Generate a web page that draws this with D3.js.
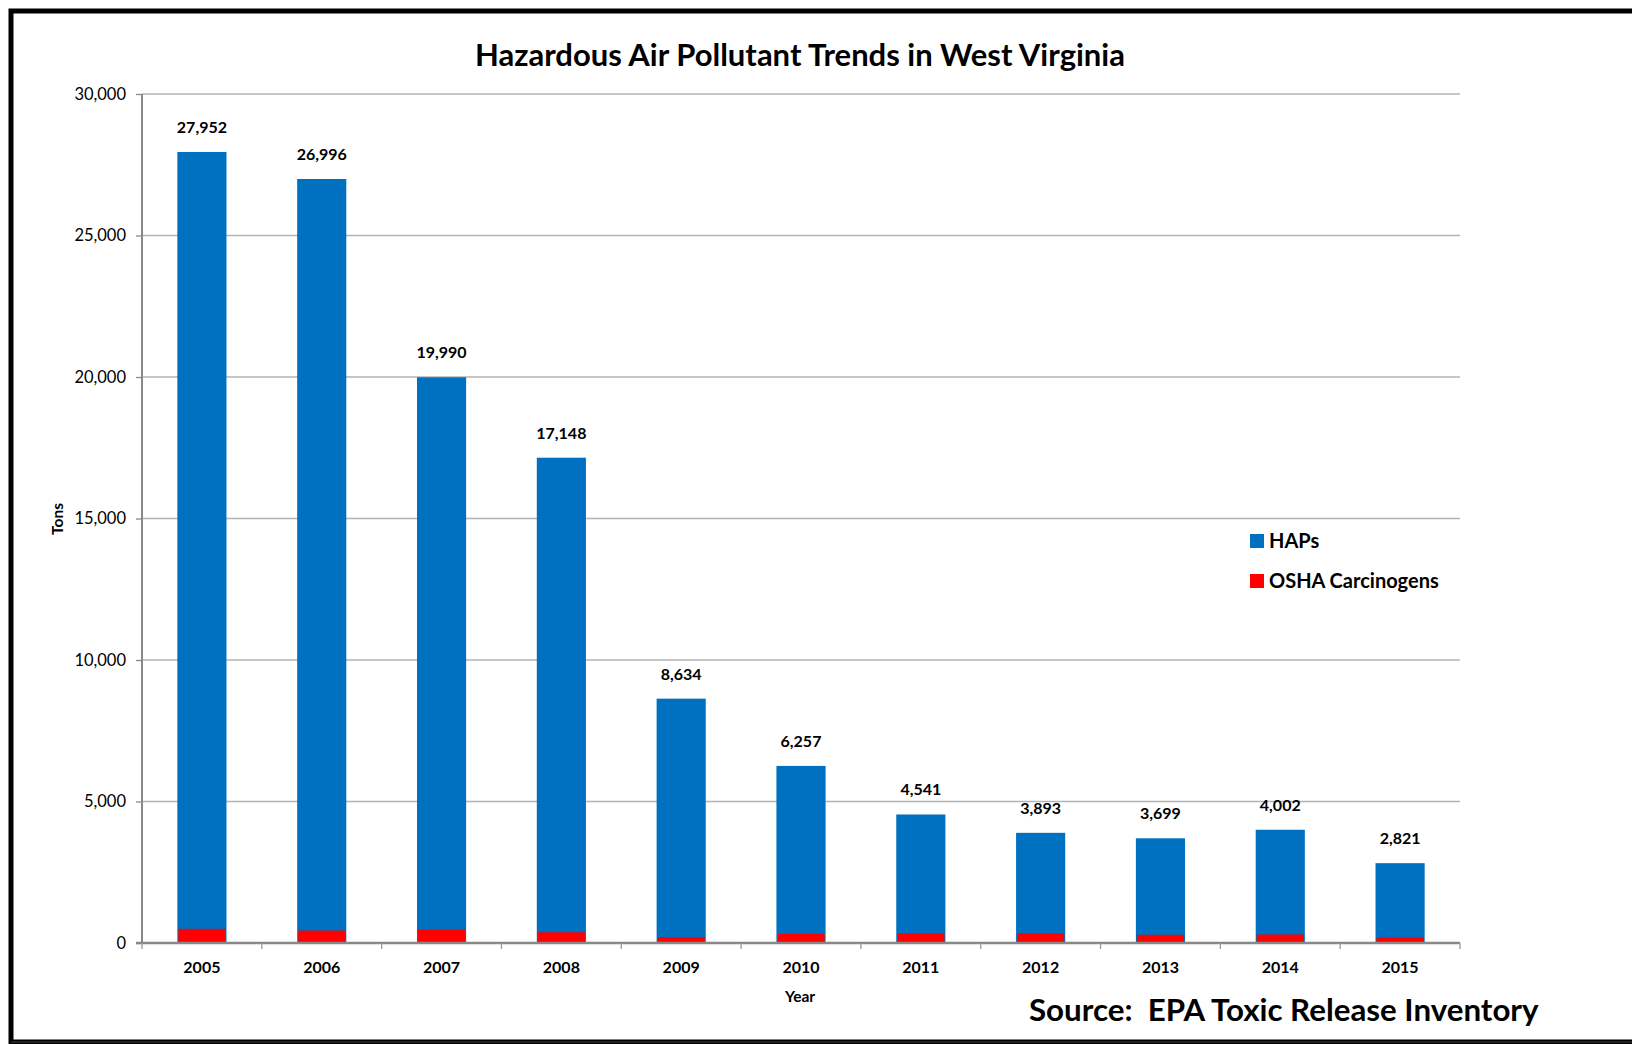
<!DOCTYPE html>
<html>
<head>
<meta charset="utf-8">
<title>Hazardous Air Pollutant Trends in West Virginia</title>
<script src="https://d3js.org/d3.v7.min.js"></script>
<style>
  body { margin: 0; background: #fff; }
  svg text { font-family: Lato, "Open Sans", sans-serif; fill: #000; }
  .bold { font-weight: bold; }
</style>
</head>
<body>
<div id="chart"></div>
<script>
// data
var years = ["2005", "2006", "2007", "2008", "2009", "2010", "2011", "2012", "2013", "2014", "2015"];
var haps = [27952, 26996, 19990, 17148, 8634, 6257, 4541, 3893, 3699, 4002, 2821];
var osha = [500, 440, 470, 380, 210, 320, 340, 340, 290, 300, 190];
var yTicks = [0, 5000, 10000, 15000, 20000, 25000, 30000];
var seriesNames = ["HAPs", "OSHA Carcinogens"];
var colors = ["#0070C0", "#FF0000"];

var W = 1632, H = 1044;
var margin = {top: 94, right: 172, bottom: 101, left: 142};
var width = W - margin.left - margin.right,
    height = H - margin.top - margin.bottom;

var svg = d3.select("#chart").append("svg")
  .attr("width", W)
  .attr("height", H);

// outer frame
svg.append("rect")
  .attr("x", 11).attr("y", 11)
  .attr("width", W + 20).attr("height", 1031)
  .attr("fill", "none")
  .attr("stroke", "#000")
  .attr("stroke-width", 5);
svg.append("line")
  .attr("x1", 11).attr("x2", W)
  .attr("y1", 1042).attr("y2", 1042)
  .attr("stroke", "#222").attr("stroke-width", 2);

var g = svg.append("g")
  .attr("transform", "translate(" + margin.left + "," + margin.top + ")");

var x = d3.scaleBand()
  .domain(years)
  .range([0, width])
  .paddingInner(0.59)
  .paddingOuter(0.295);

var y = d3.scaleLinear()
  .domain([0, 30000])
  .range([height, 0]);

// gridlines
g.append("g")
  .selectAll("line")
  .data(yTicks.filter(function(d) { return d > 0; }))
  .enter().append("line")
    .attr("x1", 0).attr("x2", width)
    .attr("y1", function(d) { return y(d); })
    .attr("y2", function(d) { return y(d); })
    .attr("stroke", "#b3b3b3")
    .attr("stroke-width", 1.3);

// bars: HAPs total, carcinogens drawn over the base
g.append("g")
  .selectAll("rect")
  .data(years)
  .enter().append("rect")
    .attr("x", function(d) { return x(d); })
    .attr("y", function(d, i) { return y(haps[i]); })
    .attr("width", x.bandwidth())
    .attr("height", function(d, i) { return height - y(haps[i]); })
    .attr("fill", colors[0]);

g.append("g")
  .selectAll("rect")
  .data(years)
  .enter().append("rect")
    .attr("x", function(d) { return x(d) + 1; })
    .attr("y", function(d, i) { return y(osha[i]); })
    .attr("width", x.bandwidth() - 2)
    .attr("height", function(d, i) { return height - y(osha[i]); })
    .attr("fill", colors[1]);

// value labels
g.append("g")
  .selectAll("text")
  .data(years)
  .enter().append("text")
    .attr("class", "bold")
    .attr("x", function(d) { return x(d) + x.bandwidth() / 2; })
    .attr("y", function(d, i) { return y(haps[i]) - 19; })
    .attr("text-anchor", "middle")
    .style("font-size", "16px")
    .text(function(d, i) { return d3.format(",")(haps[i]); });

// y axis
var yAxis = g.append("g")
  .call(d3.axisLeft(y).tickValues(yTicks).tickFormat(d3.format(",")).tickSize(6).tickPadding(10));
yAxis.selectAll("text").style("font-size", "16.5px").style("font-family", "Lato, sans-serif");
yAxis.selectAll("line").attr("stroke", "#888").attr("stroke-width", 1.3);
yAxis.select(".domain").attr("stroke", "#888").attr("stroke-width", 2).attr("d", "M0," + height + "V0");

// x axis with ticks at band boundaries
var xAxisG = g.append("g")
  .attr("transform", "translate(0," + height + ")");
xAxisG.append("line")
  .attr("x1", -6).attr("x2", width)
  .attr("stroke", "#888").attr("stroke-width", 2.5);
xAxisG.selectAll(".tick")
  .data(d3.range(years.length + 1))
  .enter().append("line")
    .attr("x1", function(i) { return i * x.step(); })
    .attr("x2", function(i) { return i * x.step(); })
    .attr("y1", 0).attr("y2", 6)
    .attr("stroke", "#999").attr("stroke-width", 1.3);
xAxisG.selectAll("text")
  .data(years)
  .enter().append("text")
    .attr("class", "bold")
    .attr("x", function(d) { return x(d) + x.bandwidth() / 2; })
    .attr("y", 30)
    .attr("text-anchor", "middle")
    .style("font-size", "16px")
    .text(function(d) { return d; });

// axis titles
svg.append("text")
  .attr("class", "bold")
  .attr("x", 800).attr("y", 1002)
  .attr("text-anchor", "middle")
  .style("font-size", "15.5px")
  .text("Year");

svg.append("text")
  .attr("class", "bold")
  .attr("transform", "translate(63,519) rotate(-90)")
  .attr("text-anchor", "middle")
  .style("font-size", "15.5px")
  .text("Tons");

// title
svg.append("text")
  .attr("class", "bold")
  .attr("x", 800).attr("y", 66)
  .attr("text-anchor", "middle")
  .style("font-size", "31px")
  .text("Hazardous Air Pollutant Trends in West Virginia");

// legend
var legend = svg.append("g")
  .attr("transform", "translate(1250,534)");
var items = legend.selectAll("g")
  .data(seriesNames)
  .enter().append("g")
  .attr("transform", function(d, i) { return "translate(0," + (i * 40) + ")"; });
items.append("rect")
  .attr("width", 14).attr("height", 14)
  .attr("fill", function(d, i) { return colors[i]; });
items.append("text")
  .attr("class", "bold")
  .attr("x", 19).attr("y", 14)
  .style("font-size", "20px")
  .text(function(d) { return d; });

// source note
svg.append("text")
  .attr("class", "bold")
  .attr("x", 1029).attr("y", 1021)
  .style("font-size", "31.3px")
  .style("white-space", "pre")
  .attr("xml:space", "preserve")
  .text("Source:  EPA Toxic Release Inventory");
</script>
</body>
</html>
